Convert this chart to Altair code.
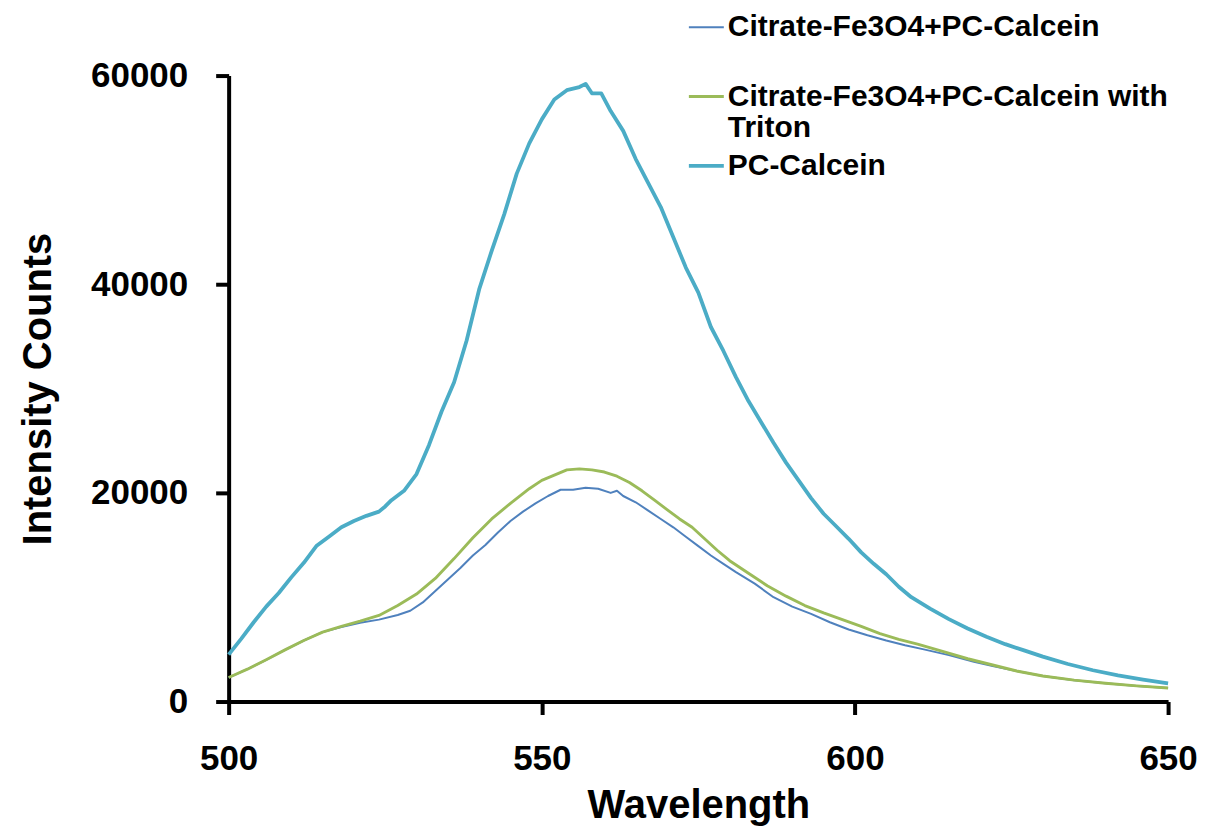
import altair as alt
import pandas as pd

# --- data ---
series_names = [
    "Citrate-Fe3O4+PC-Calcein",
    "Citrate-Fe3O4+PC-Calcein with Triton",
    "PC-Calcein",
]
colors = ["#4F81BD", "#9BBB59", "#4BACC6"]
widths = [2.0, 3.8, 3.8]

blue_wl = [500, 503, 506, 509, 512, 515, 518, 521, 524, 527, 529, 531, 533, 535, 537,
           539, 541, 543, 545, 547, 549, 551, 553, 555, 557, 559, 561, 562, 563, 565,
           567, 569, 571, 573, 575, 577, 579, 581, 584, 587, 590, 593, 596, 599, 602,
           605, 608, 611, 615, 619, 622, 626, 630, 635, 640, 645, 650]
blue_val = [2300, 3100, 4000, 4950, 5850, 6650, 7150, 7550, 7850, 8300, 8700, 9500, 10600, 11700, 12800,
            14000, 15000, 16200, 17300, 18200, 19000, 19700, 20300, 20300, 20500, 20400, 20000, 20200, 19700, 19100,
            18300, 17500, 16700, 15800, 14900, 14000, 13200, 12400, 11300, 10000, 9100, 8400, 7600, 6900, 6350,
            5850, 5400, 5000, 4450, 3800, 3400, 2900, 2450, 2050, 1750, 1500, 1300]

green_wl = [500, 503, 506, 509, 512, 515, 518, 521, 524, 527, 530, 533, 536, 539, 542,
            545, 548, 550, 552, 554, 556, 558, 560, 562, 564, 566, 568, 570, 572, 574,
            576, 578, 580, 583, 586, 589, 592, 595, 598, 601, 604, 607, 610, 614, 618,
            622, 626, 630, 635, 640, 645, 650]
green_val = [2300, 3100, 4000, 4950, 5850, 6650, 7200, 7700, 8250, 9200, 10300, 11800, 13700, 15700, 17500,
             19000, 20400, 21200, 21700, 22200, 22300, 22200, 22000, 21600, 21000, 20200, 19300, 18400, 17500, 16700,
             15600, 14500, 13500, 12300, 11100, 10100, 9200, 8500, 7850, 7200, 6500, 5950, 5500, 4800, 4100,
             3500, 2900, 2450, 2050, 1750, 1500, 1300]

teal_wl = [500, 502, 504, 506, 508, 510, 512, 514, 516, 518, 520, 522, 524, 525, 526,
           528, 530, 532, 534, 536, 538, 540, 542, 544, 546, 548, 550, 552, 554, 556,
           557, 558, 559.5, 561, 563, 565, 567, 569, 571, 573, 575, 577, 579, 581, 583,
           585, 587, 589, 591, 593, 595, 597, 599, 601, 603, 605, 607, 609, 612, 615,
           618, 621, 624, 627, 630, 634, 638, 642, 646, 650]
teal_val = [4500, 6000, 7600, 9100, 10400, 11900, 13300, 14900, 15800, 16700, 17300, 17800, 18200, 18700, 19300,
            20200, 21800, 24600, 27800, 30600, 34600, 39500, 43200, 46700, 50600, 53500, 55800, 57700, 58600, 58900,
            59200, 58300, 58300, 56600, 54700, 52000, 49700, 47400, 44500, 41600, 39200, 35900, 33600, 31100, 28800,
            26800, 24800, 22900, 21200, 19500, 18000, 16800, 15600, 14300, 13200, 12200, 11000, 10000, 8900, 7900,
            7000, 6200, 5500, 4900, 4300, 3600, 3000, 2500, 2100, 1750]

x_ticks = [500, 550, 600, 650]
y_ticks = [0, 20000, 40000, 60000]

rows = []
for name, wl, val in zip(series_names, [blue_wl, green_wl, teal_wl], [blue_val, green_val, teal_val]):
    for i, (w, v) in enumerate(zip(wl, val)):
        rows.append({"series": name, "wl": w, "val": v, "order": i})
df = pd.DataFrame(rows)

FONT = "Liberation Sans"

label_expr = (
    "datum.label == 'Citrate-Fe3O4+PC-Calcein with Triton' ? "
    "['Citrate-Fe3O4+PC-Calcein with', 'Triton'] : "
    "(datum.label == 'Citrate-Fe3O4+PC-Calcein' ? ['Citrate-Fe3O4+PC-Calcein', ''] : datum.label)"
)

chart = alt.Chart(df).mark_line(strokeJoin="round").encode(
    x=alt.X("wl:Q", scale=alt.Scale(domain=[500, 650], nice=False, zero=False),
            axis=alt.Axis(values=x_ticks, format="d", title="Wavelength",
                          labelFlush=False, labelPadding=27, titlePadding=9)),
    y=alt.Y("val:Q", scale=alt.Scale(domain=[0, 60000], nice=False),
            axis=alt.Axis(values=y_ticks, format="d", title="Intensity Counts",
                          labelPadding=28, titlePadding=32)),
    color=alt.Color("series:N",
                    scale=alt.Scale(domain=series_names, range=colors),
                    legend=alt.Legend(orient="none", legendX=459, legendY=-67, title=None,
                                      symbolType="stroke", symbolSize=1225,
                                      labelFont=FONT, labelFontSize=30, labelFontWeight="bold",
                                      labelColor="black", labelLimit=700, labelOffset=2,
                                      labelExpr=label_expr, rowPadding=3, padding=0)),
    strokeWidth=alt.StrokeWidth("series:N", scale=alt.Scale(domain=series_names, range=widths)),
    order="order:Q",
).properties(
    width=941,
    height=627,
    padding={"left": 221, "top": 67, "right": 50, "bottom": 130},
    autosize=alt.AutoSizeParams(type="none"),
).configure_view(stroke=None).configure_axis(
    grid=False,
    domainColor="black",
    domainWidth=4,
    tickColor="black",
    tickWidth=4,
    tickSize=13,
    labelFont=FONT,
    labelFontSize=35,
    labelFontWeight="bold",
    labelColor="black",
    titleFont=FONT,
    titleFontSize=40,
    titleFontWeight="bold",
    titleColor="black",
    labelOverlap=False,
)

chart.save("out.html", embed_options={"renderer": "svg", "actions": False})
